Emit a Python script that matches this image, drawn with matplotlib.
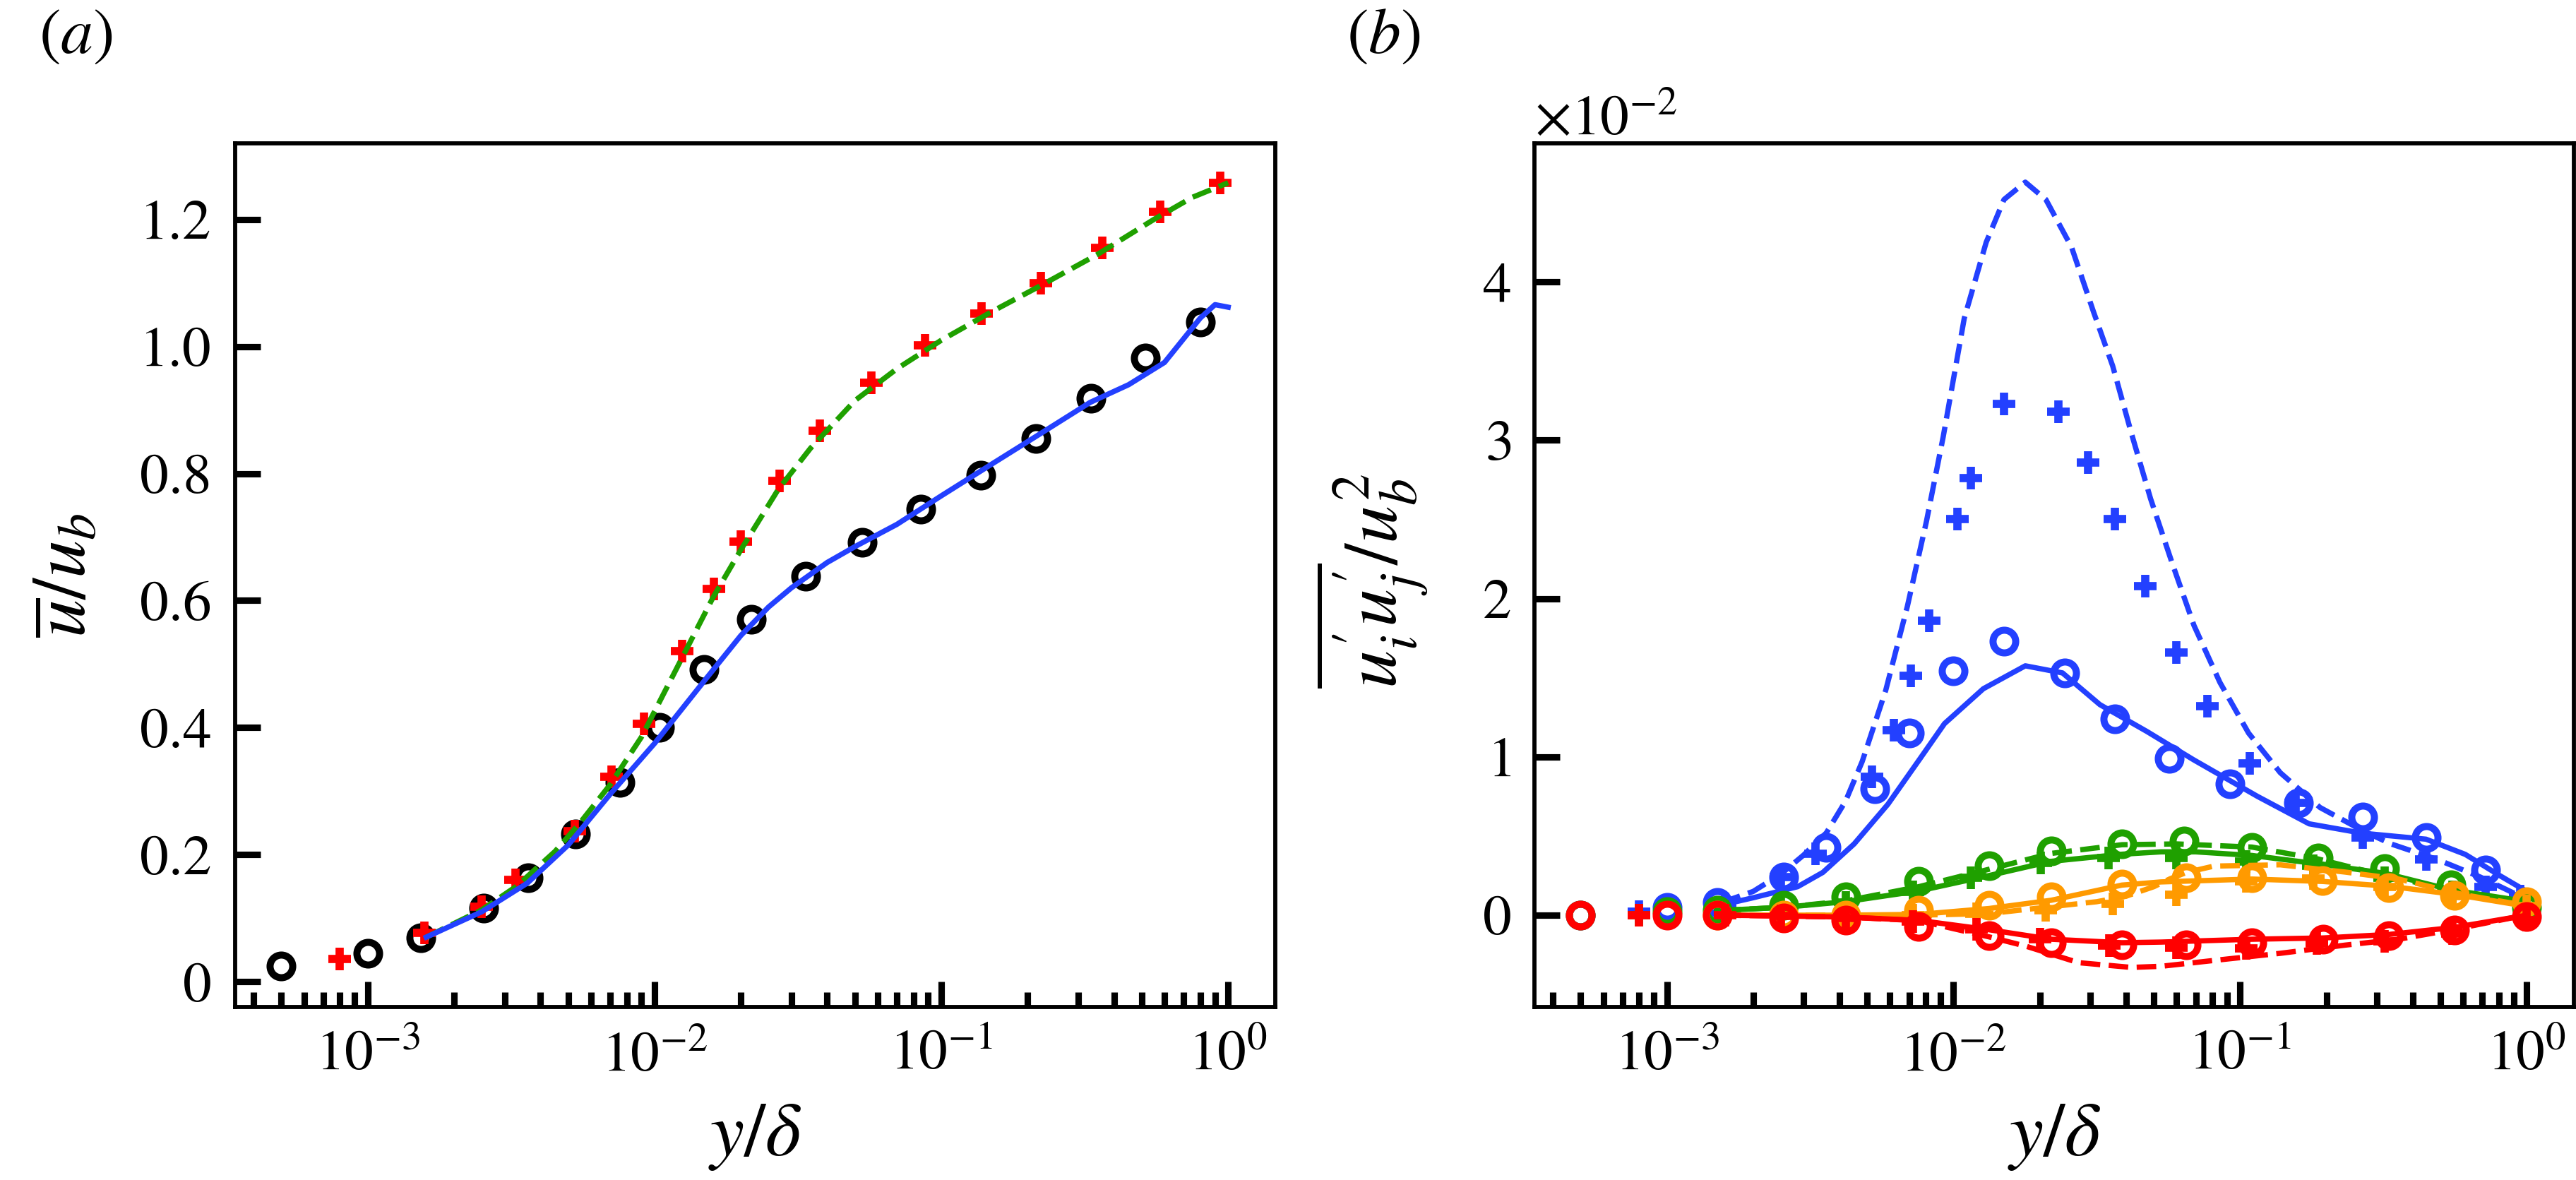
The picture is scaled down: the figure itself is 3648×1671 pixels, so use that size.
import numpy as np
import matplotlib
matplotlib.use("Agg")
import matplotlib.pyplot as plt
from matplotlib.ticker import FixedLocator, FuncFormatter, ScalarFormatter, LogLocator

plt.rcParams["font.family"] = "serif"
plt.rcParams["font.serif"] = ["STIXGeneral", "Liberation Serif", "DejaVu Serif"]
plt.rcParams["mathtext.fontset"] = "stix"

BLUE = "#2340ff"
GREEN = "#1fa000"
ORANGE = "#ff9a00"
RED = "#ff0000"

# ---- panel (a): mean velocity ----
a_dns_y = [5.0e-4, 1.0e-3, 1.53e-3, 2.54e-3, 3.63e-3, 5.3e-3, 7.6e-3, 1.04e-2, 1.49e-2,
           2.17e-2, 3.37e-2, 5.3e-2, 8.5e-2, 0.137, 0.214, 0.332, 0.514, 0.80]
a_dns_u = [0.024, 0.045, 0.069, 0.116, 0.163, 0.233, 0.314, 0.400, 0.492,
           0.570, 0.638, 0.692, 0.744, 0.797, 0.855, 0.919, 0.982, 1.039]
a_les_y = [8.0e-4, 1.58e-3, 2.49e-3, 3.27e-3, 5.26e-3, 7.1e-3, 9.2e-3, 1.25e-2, 1.61e-2, 2.0e-2,
           2.73e-2, 3.77e-2, 5.69e-2, 8.75e-2, 0.138, 0.222, 0.365, 0.578, 0.94]
a_les_u = [0.036, 0.077, 0.118, 0.160, 0.237, 0.323, 0.406, 0.520, 0.618, 0.693,
           0.788, 0.867, 0.943, 1.002, 1.052, 1.100, 1.155, 1.212, 1.258]
a_dash_y = [1.6e-3, 2.5e-3, 3.3e-3, 4.5e-3, 5.5e-3, 7e-3, 9e-3, 1.2e-2, 1.6e-2, 2.0e-2, 2.7e-2,
            3.5e-2, 5e-2, 7e-2, 0.1, 0.15, 0.22, 0.35, 0.55, 0.75, 1.0]
a_dash_u = [0.070, 0.113, 0.150, 0.205, 0.250, 0.31, 0.385, 0.495, 0.605, 0.68, 0.775,
            0.84, 0.915, 0.965, 1.01, 1.055, 1.095, 1.145, 1.20, 1.235, 1.258]
a_solid_y = [1.6e-3, 2.5e-3, 3.6e-3, 5e-3, 7e-3, 1e-2, 1.5e-2, 2e-2, 2.5e-2, 3e-2, 4e-2, 5e-2,
             7e-2, 0.1, 0.15, 0.22, 0.33, 0.45, 0.6, 0.8, 0.9, 1.0]
a_solid_u = [0.07, 0.11, 0.155, 0.215, 0.295, 0.375, 0.475, 0.545, 0.59, 0.62, 0.66, 0.685,
             0.72, 0.765, 0.815, 0.862, 0.912, 0.94, 0.975, 1.045, 1.066, 1.062]

# ---- panel (b): Reynolds stresses (units of 1e-2) ----
uu_dns_y = [5.0e-4, 1.0e-3, 1.5e-3, 2.56e-3, 3.6e-3, 5.3e-3, 7.0e-3, 1.0e-2, 1.5e-2, 2.44e-2,
            3.66e-2, 5.65e-2, 9.2e-2, 0.160, 0.267, 0.446, 0.72]
uu_dns_v = [0.0, 0.05, 0.08, 0.24, 0.43, 0.80, 1.15, 1.545, 1.73, 1.53,
            1.24, 0.99, 0.83, 0.71, 0.62, 0.49, 0.286]
uu_les_y = [8.0e-4, 1.6e-3, 2.5e-3, 3.3e-3, 5.2e-3, 6.2e-3, 7.1e-3, 8.2e-3, 1.03e-2, 1.15e-2,
            1.5e-2, 2.32e-2, 2.94e-2, 3.65e-2, 4.66e-2, 6.0e-2, 7.7e-2, 0.108, 0.156, 0.267,
            0.445, 0.72, 0.95]
uu_les_v = [0.02, 0.07, 0.24, 0.39, 0.875, 1.17, 1.51, 1.86, 2.50, 2.76,
            3.23, 3.18, 2.86, 2.50, 2.08, 1.66, 1.32, 0.96, 0.71, 0.49,
            0.35, 0.18, 0.12]
uu_solid_y = [1.6e-3, 2.0e-3, 2.86e-3, 3.5e-3, 4.5e-3, 5.9e-3, 7.65e-3, 9.3e-3, 1.27e-2, 1.78e-2,
              2.4e-2, 3.24e-2, 4.73e-2, 6.9e-2, 0.115, 0.174, 0.266, 0.445, 0.61, 0.805, 1.0]
uu_solid_v = [0.07, 0.11, 0.18, 0.27, 0.45, 0.70, 0.99, 1.21, 1.43, 1.575,
              1.53, 1.33, 1.16, 0.98, 0.75, 0.577, 0.518, 0.48, 0.384, 0.25, 0.15]
uu_dash_y = [1.55e-3, 2.0e-3, 2.5e-3, 3.0e-3, 3.6e-3, 4.2e-3, 4.8e-3, 5.8e-3, 6.9e-3, 8.05e-3,
             9.2e-3, 1.09e-2, 1.3e-2, 1.5e-2, 1.78e-2, 2.1e-2, 2.58e-2, 3.08e-2, 3.59e-2, 4.18e-2,
             4.87e-2, 5.8e-2, 6.9e-2, 8.5e-2, 0.107, 0.138, 0.19, 0.27, 0.336, 0.49, 0.69, 1.0]
uu_dash_v = [0.08, 0.15, 0.26, 0.38, 0.52, 0.72, 0.97, 1.42, 1.95, 2.49,
             3.02, 3.77, 4.25, 4.52, 4.63, 4.52, 4.22, 3.81, 3.47, 3.04,
             2.63, 2.22, 1.83, 1.47, 1.15, 0.90, 0.68, 0.53, 0.45, 0.35, 0.24, 0.10]

vv_dns_y = [5e-4, 1e-3, 1.5e-3, 2.56e-3, 4.2e-3, 7.57e-3, 1.33e-2, 2.19e-2, 3.87e-2, 6.37e-2,
            0.11, 0.187, 0.319, 0.544, 1.0]
vv_dns_v = [0.0, 0.02, 0.03, 0.064, 0.116, 0.213, 0.31, 0.406, 0.45, 0.47,
            0.43, 0.36, 0.295, 0.19, 0.05]
vv_les_y = [8e-4, 1.6e-3, 2.5e-3, 4.2e-3, 7.2e-3, 1.15e-2, 2.02e-2, 3.47e-2, 6.0e-2, 0.105,
            0.18, 0.32, 0.55, 1.0]
vv_les_v = [0.0, 0.02, 0.04, 0.08, 0.146, 0.235, 0.332, 0.362, 0.362, 0.339,
            0.31, 0.235, 0.146, 0.05]
vv_solid_y = [1.55e-3, 2.57e-3, 4.2e-3, 7.57e-3, 1.33e-2, 2.19e-2, 3.87e-2, 5.3e-2, 7.0e-2, 0.11,
              0.187, 0.319, 0.544, 1.0]
vv_solid_v = [0.03, 0.05, 0.085, 0.153, 0.25, 0.34, 0.385, 0.40, 0.40, 0.377,
              0.324, 0.265, 0.16, 0.086]
vv_dash_y = [1.55e-3, 2.57e-3, 4.2e-3, 7.57e-3, 1.33e-2, 2.19e-2, 3.87e-2, 6e-2, 0.11, 0.187,
             0.319, 0.544, 1.0]
vv_dash_v = [0.03, 0.05, 0.09, 0.18, 0.29, 0.39, 0.445, 0.45, 0.43, 0.355,
             0.25, 0.16, 0.07]

ww_dns_y = [1.5e-3, 2.56e-3, 4.2e-3, 7.57e-3, 1.33e-2, 2.19e-2, 3.87e-2, 6.5e-2, 0.11, 0.194,
            0.33, 0.56, 1.0]
ww_dns_v = [0.0, 0.0, 0.0, 0.03, 0.064, 0.116, 0.198, 0.235, 0.235, 0.22,
            0.175, 0.123, 0.086]
ww_les_y = [2.5e-3, 4.2e-3, 7.2e-3, 1.2e-2, 2.1e-2, 3.6e-2, 6.0e-2, 0.105, 0.18, 0.32, 0.55, 1.0]
ww_les_v = [0.0, 0.0, 0.0, 0.01, 0.03, 0.07, 0.13, 0.215, 0.23, 0.18, 0.12, 0.06]
ww_solid_y = [1.55e-3, 4.2e-3, 7.57e-3, 1.33e-2, 2.19e-2, 3.87e-2, 5.3e-2, 0.11, 0.194, 0.33,
              0.56, 1.0]
ww_solid_v = [0.0, 0.0, 0.005, 0.042, 0.094, 0.19, 0.21, 0.228, 0.213, 0.183,
              0.131, 0.056]
ww_dash_y = [1.55e-3, 7.57e-3, 1.33e-2, 2.47e-2, 3.16e-2, 4.0e-2, 5.0e-2, 5.7e-2, 6.5e-2, 8.1e-2,
             0.138, 0.233, 0.357, 0.6, 1.0]
ww_dash_v = [0.0, 0.0, 0.01, 0.064, 0.085, 0.12, 0.18, 0.23, 0.27, 0.31,
             0.318, 0.272, 0.228, 0.13, 0.06]

uv_dns_y = [5e-4, 1e-3, 1.5e-3, 2.56e-3, 4.2e-3, 7.57e-3, 1.33e-2, 2.19e-2, 3.87e-2, 6.5e-2,
            0.11, 0.195, 0.33, 0.56, 1.0]
uv_dns_v = [0.0, 0.0, 0.0, -0.02, -0.03, -0.07, -0.13, -0.174, -0.189, -0.189,
            -0.174, -0.152, -0.13, -0.092, -0.01]
uv_les_y = [8e-4, 1.6e-3, 2.5e-3, 4.2e-3, 7.2e-3, 1.2e-2, 2.0e-2, 3.5e-2, 6.0e-2, 0.105,
            0.185, 0.32, 0.55, 1.0]
uv_les_v = [0.0, 0.0, -0.005, -0.02, -0.04, -0.09, -0.15, -0.19, -0.204, -0.211,
            -0.18, -0.167, -0.115, -0.033]
uv_solid_y = [1.55e-3, 2.57e-3, 4.2e-3, 7.57e-3, 1.33e-2, 2.19e-2, 3.87e-2, 5.3e-2, 0.11, 0.195,
              0.33, 0.56, 1.0]
uv_solid_v = [0.0, -0.005, -0.012, -0.033, -0.092, -0.152, -0.174, -0.17, -0.152, -0.144,
              -0.122, -0.077, 0.0]
uv_dash_y = [1.55e-3, 4.2e-3, 7.57e-3, 1.33e-2, 1.79e-2, 2.73e-2, 4.17e-2, 5.3e-2, 8.1e-2, 0.138,
             0.233, 0.357, 0.55, 0.97]
uv_dash_v = [0.0, -0.012, -0.035, -0.137, -0.196, -0.30, -0.33, -0.323, -0.286, -0.241,
             -0.189, -0.152, -0.092, -0.003]

W, H, DPI = 3648, 1671, 300
fig = plt.figure(figsize=(W / DPI, H / DPI), dpi=DPI)

ax_bot, ax_h = 1 - 1426 / H, (1426 - 203) / H
ax1 = fig.add_axes([333 / W, ax_bot, (1806 - 333) / W, ax_h])
ax2 = fig.add_axes([2173 / W, ax_bot, (3645 - 2173) / W, ax_h])

circ = dict(marker="o", ls="none", ms=7.7, mfc="none", mew=2.4)
plus = dict(marker="+", ls="none", ms=7.7, mew=2.8)
LW = 1.8

# panel (a)
ax1.plot(a_dns_y, a_dns_u, color="black", zorder=2, **circ)
ax1.plot(a_les_y, a_les_u, color=RED, zorder=3, **plus)
ax1.plot(a_dash_y, a_dash_u, color=GREEN, ls="--", lw=LW, zorder=4)
ax1.plot(a_solid_y, a_solid_u, color=BLUE, ls="-", lw=LW, zorder=5)

# panel (b)
s = 1e-2
groups = [
    (BLUE, uu_dns_y, uu_dns_v, uu_les_y, uu_les_v, uu_solid_y, uu_solid_v, uu_dash_y, uu_dash_v),
    (GREEN, vv_dns_y, vv_dns_v, vv_les_y, vv_les_v, vv_solid_y, vv_solid_v, vv_dash_y, vv_dash_v),
    (ORANGE, ww_dns_y, ww_dns_v, ww_les_y, ww_les_v, ww_solid_y, ww_solid_v, ww_dash_y, ww_dash_v),
    (RED, uv_dns_y, uv_dns_v, uv_les_y, uv_les_v, uv_solid_y, uv_solid_v, uv_dash_y, uv_dash_v),
]
for k, (c, dy, dv, ly, lv, sy, sv, hy, hv) in enumerate(groups):
    z = 2 + k
    ax2.plot(dy, np.array(dv) * s, color=c, zorder=z, **circ)
    ax2.plot(ly, np.array(lv) * s, color=c, zorder=z, **plus)
    ax2.plot(sy, np.array(sv) * s, color=c, ls="-", lw=LW, zorder=z)
    ax2.plot(hy, np.array(hv) * s, color=c, ls="--", lw=LW, zorder=z)

for ax in (ax1, ax2):
    ax.set_xscale("log")
    ax.set_xlim(3.45e-4, 1.46)
    ax.xaxis.set_major_locator(LogLocator(base=10, numticks=10))
    ax.xaxis.set_minor_locator(LogLocator(base=10, subs=np.arange(2, 10), numticks=10))
    ax.tick_params(which="both", direction="in", top=False, right=False, labelsize=19.5, pad=8)
    ax.tick_params(which="major", length=8.7, width=2.2)
    ax.tick_params(which="minor", length=5, width=2.2)
    ax.tick_params(axis="y", which="minor", left=False)
    for sp in ax.spines.values():
        sp.set_linewidth(1.4)
    ax.set_xlabel(r"$y/\delta$", fontsize=26)
    ax.xaxis.set_label_coords(0.5, -0.11)

ax1.set_ylim(-0.04, 1.32)
ax1.yaxis.set_major_locator(FixedLocator([0, 0.2, 0.4, 0.6, 0.8, 1.0, 1.2]))
ax1.yaxis.set_major_formatter(FuncFormatter(lambda v, p: "0" if abs(v) < 1e-9 else f"{v:.1f}"))
ax1.set_ylabel(r"$\overline{u}/u_b$", fontsize=26)
ax1.yaxis.set_label_coords(-0.127, 0.5)

ax2.set_ylim(-0.58e-2, 4.875e-2)
ax2.yaxis.set_major_locator(FixedLocator([0, 1e-2, 2e-2, 3e-2, 4e-2]))
fmt = ScalarFormatter(useMathText=True)
fmt.set_powerlimits((0, 0))
ax2.yaxis.set_major_formatter(fmt)
ax2.yaxis.get_offset_text().set_fontsize(19.5)
ax2.set_ylabel(r"$\overline{u_i^{\prime}u_j^{\prime}}/u_b^2$", fontsize=26)
ax2.yaxis.set_label_coords(-0.1, 0.493)

fig.text(55 / W, 1 - 13 / H, r"$(a)$", fontsize=22, ha="left", va="top")
fig.text(1907 / W, 1 - 13 / H, r"$(b)$", fontsize=22, ha="left", va="top")

fig.savefig("out.png", dpi=DPI)
